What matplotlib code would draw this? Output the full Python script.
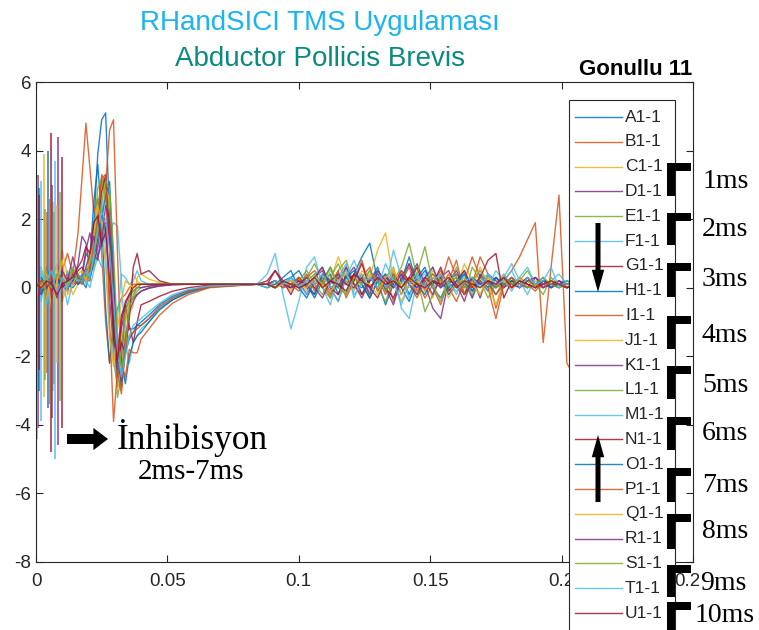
import numpy as np
import matplotlib.pyplot as plt
from matplotlib.patches import Rectangle, FancyArrowPatch
from matplotlib.lines import Line2D

W, H = 759, 630

# zaman ekseni (s)
t = ([0.000, 0.002, 0.004, 0.006, 0.008, 0.010, 0.012, 0.014, 0.016] +
     [0.0175, 0.019, 0.0205, 0.022, 0.0235, 0.025, 0.0265, 0.028, 0.0295, 0.031,
      0.0325, 0.034, 0.0355, 0.037, 0.0385, 0.040] +
     [0.043, 0.047, 0.052, 0.058, 0.066, 0.084] +
     [0.088, 0.091, 0.094, 0.097, 0.100, 0.103, 0.106, 0.109, 0.112, 0.115,
      0.118, 0.121, 0.124, 0.127, 0.130, 0.133, 0.136, 0.139, 0.142, 0.145,
      0.148, 0.151, 0.154, 0.157, 0.160, 0.163, 0.166, 0.169, 0.172, 0.175,
      0.178, 0.181, 0.184, 0.187, 0.190, 0.193, 0.196, 0.199, 0.202, 0.205])

labels = ['A1-1', 'B1-1', 'C1-1', 'D1-1', 'E1-1', 'F1-1', 'G1-1', 'H1-1', 'I1-1',
          'J1-1', 'K1-1', 'L1-1', 'M1-1', 'N1-1', 'O1-1', 'P1-1', 'Q1-1', 'R1-1',
          'S1-1', 'T1-1', 'U1-1']

A = [0.3, -0.2, 0.1, 0.2, -0.1, 0.1, 0.0, 0.2, 0.4,
     0.2, 0.0, 0.4, 1.8, 3.9, 4.9, 5.1, 2.0, -1.5, -2.3, -1.6, -1.3, -1.2, -1.2, -1.1, -1.1,
     -0.9, -0.6, -0.35, -0.15, 0.02, 0.1,
     0.1, 0.2, 0.0, 0.3, 0.5, 0.1, -0.3, 0.2, 0.6, 0.1, -0.2, 0.4, 0.9, 1.3, 0.2, -0.5, 0.1, 0.4, -0.2, 0.3,
     0.6, 0.0, -0.3, 0.2, 0.4, 0.1, -0.1, 0.3, 0.2, -0.2, 0.1, 0.3, 0.0, 0.2, 0.1, 0.3, 0.0, 0.2, 0.1, 0.1]
B = [0.2, 0.0, -0.3, 0.3, 0.2, 0.5, 1.0, 0.4, 1.6,
     3.2, 4.8, 3.5, 2.2, 2.6, 1.0, -1.0, -2.2, -1.2, -0.6, -0.3, -0.2, 0.0, 0.1, 0.1, 0.1,
     0.1, 0.1, 0.1, 0.1, 0.1, 0.1,
     0.1, 0.0, 0.2, 0.1, -0.1, 0.3, 0.5, 0.0, -0.3, 0.2, 0.6, 0.1, -0.2, 0.3, 0.0, 0.4, -0.4, 0.2, 0.6, -0.1,
     0.3, 0.0, -0.5, 0.2, 0.8, -0.2, 0.1, 0.9, 0.4, -0.6, 0.2, 0.5, 0.9, 1.4, 1.9, -1.6, 0.6, 2.7, -2.2, -2.6]
C = [0.1, 0.5, 0.3, -0.5, 0.2, 1.1, 0.3, -0.2, 0.1,
     0.2, 0.4, 0.9, 0.5, 1.4, 2.8, 3.1, 2.0, -0.8, -2.8, -3.0, -1.6, -0.8, -0.5, 0.3, 0.4,
     0.25, 0.15, 0.1, 0.1, 0.1, 0.1,
     0.0, 0.1, 0.2, -0.1, 0.3, 0.1, -0.2, 0.4, 0.2, 0.9, 0.3, -0.1, 0.5, 0.3, 1.1, 1.6, 0.2, -0.4, 0.1, 0.6,
     0.2, -0.3, 0.4, 0.1, 0.0, 0.7, 0.2, -0.2, 0.3, 0.1, 0.0, 0.2, 0.1, 0.3, 0.0, 0.2, 0.1, 0.2, 0.1, 0.1]
D = [-0.3, -0.1, 0.3, 0.1, -0.2, 0.2, 0.0, 0.2, 0.7,
     1.5, 1.3, 0.6, 1.9, 2.1, 1.2, 1.8, -0.3, -1.8, -2.5, -1.2, -0.6, -0.4, -0.3, -0.2, -0.1,
     -0.02, 0.05, 0.08, 0.1, 0.1, 0.1,
     0.1, 0.2, 0.1, 0.0, 0.2, -0.2, 0.3, 0.5, 0.0, -0.4, 0.3, 0.6, 0.1, -0.3, 0.2, 0.0, 0.4, -0.2, 0.3, 0.7,
     0.1, -0.6, -0.9, 0.2, 0.5, 0.0, 0.3, -0.3, 0.4, 0.2, 0.0, 0.3, 0.1, 0.2, 0.0, 0.1, 0.2, 0.1, 0.0, 0.1]
E = [0.4, 0.2, -0.1, 0.5, 0.3, 0.0, 0.2, 0.6, 0.3,
     0.1, 0.4, 0.2, 1.1, 2.4, 3.1, 3.1, 2.2, -1.0, -3.2, -2.6, -0.9, -0.5, -0.3, -0.1, 0.0,
     0.05, 0.08, 0.1, 0.1, 0.1, 0.1,
     0.1, 0.1, 0.2, 0.0, 0.1, 0.3, 0.7, 0.2, -0.3, 0.5, 0.8, 0.1, -0.2, 0.3, 0.0, -0.4, 0.2, 0.6, 1.3, 0.3,
     -0.7, -0.2, 0.4, 0.1, 0.3, -0.2, 0.6, 0.2, -0.3, 0.1, 0.4, 0.0, 0.2, 0.5, 0.1, -0.2, 0.3, 0.1, 0.2, 0.1]
F = [0.5, -0.4, 0.6, 0.2, 0.7, 0.3, -0.5, 0.2, 0.3,
     0.3, 0.2, 0.0, 0.5, 0.9, 0.6, 1.1, 1.6, 1.9, 1.8, 0.2, -1.6, -2.2, -1.6, -1.4, -1.2,
     -1.0, -0.6, -0.3, -0.1, 0.05, 0.1,
     0.4, 1.0, -0.2, -1.2, -0.4, 0.6, 0.9, 0.0, -0.5, 0.3, 0.7, -0.3, 0.2, 0.5, -0.1, 0.3, 0.6, -0.6, -0.9, 0.2,
     0.4, 0.0, 0.3, -0.2, 0.1, 0.5, -0.3, 0.2, 0.4, 0.0, 0.3, 0.7, 0.2, -0.2, 0.3, 0.1, 0.2, 0.0, 0.2, 0.1]
G = [-0.2, 0.1, 0.2, -0.3, 0.0, 0.1, 0.3, 0.2, 0.5,
     0.6, 0.4, 0.5, 0.9, 1.4, 2.2, 1.6, 2.3, -0.6, -1.9, -0.8, -0.5, -1.1, -1.6, -1.0, -0.5,
     -0.4, -0.25, -0.1, 0.0, 0.08, 0.1,
     0.1, 0.5, 0.2, -0.2, 0.3, 0.0, 0.1, 0.2, -0.1, 0.3, 0.1, 0.4, -0.2, 0.2, 0.5, 0.0, -0.3, 0.3, 0.2, 0.6,
     -0.1, 0.2, 0.0, 0.4, 0.1, -0.2, 0.3, 0.1, 0.2, 0.0, 0.3, 0.1, 0.2, 0.0, 0.1, 0.2, 0.1, 0.1, 0.0, 0.1]
H_ = [0.1, 0.0, -0.2, 0.1, 0.3, 0.2, 0.1, 0.0, 0.2,
      0.3, 1.0, 0.8, 2.5, 3.6, 2.0, -0.6, -2.2, -1.0, -1.8, -2.1, -2.8, -2.0, -1.6, -1.4, -1.3,
      -1.0, -0.65, -0.35, -0.12, 0.03, 0.1,
      0.0, 0.1, 0.3, 0.5, 0.0, -0.3, 0.2, 0.1, 0.4, -0.2, 0.3, 0.1, 0.0, 0.2, 0.6, -0.1, 0.3, 0.0, -0.4, 0.2,
      0.5, 0.1, 0.3, -0.2, 0.1, 0.4, 0.0, 0.2, -0.1, 0.3, 0.1, 0.0, 0.2, 0.1, 0.0, 0.2, 0.1, 0.0, 0.1, 0.1]
I = [0.0, 0.2, 0.1, -0.2, 0.4, 0.3, 0.0, 0.5, 0.2,
     0.1, 0.3, 0.2, 0.9, 1.8, 3.3, 3.0, 4.6, 4.9, 1.0, -2.2, -2.6, -1.8, -1.9, -1.9, -1.5,
     -1.2, -0.8, -0.45, -0.2, 0.0, 0.1,
     0.1, 0.0, 0.1, 0.2, 0.0, 0.4, -0.1, 0.3, 0.1, 0.5, -0.3, 0.2, 0.8, 0.0, 0.3, -0.2, 0.4, 0.1, 0.7, 0.2,
     -0.3, 0.1, 0.5, 0.0, -0.4, 0.2, 0.9, 0.3, 0.1, -0.2, 0.2, 0.0, 0.3, 0.1, -0.1, 0.2, 0.1, 0.0, 0.2, 0.1]
J = [0.2, 0.1, -0.3, 0.4, 0.6, -0.4, 0.1, 0.3, 0.1,
     0.2, 0.5, 1.1, 0.7, 1.2, 2.1, 3.0, 2.5, 0.4, -2.0, -2.9, -1.1, -0.3, 0.4, 0.2, 0.1,
     0.1, 0.1, 0.1, 0.1, 0.1, 0.1,
     0.1, 0.0, 0.2, 0.1, 0.3, -0.1, 0.2, 0.0, 0.5, 0.2, -0.2, 0.3, 0.1, 0.4, 0.0, 0.2, 0.6, -0.2, 0.1, 0.3,
     0.0, 0.5, 0.2, -0.3, 0.1, 0.3, 0.0, 0.6, 0.1, -0.5, 0.2, 0.1, 0.3, 0.0, 0.2, 0.1, 0.2, 0.0, 0.1, 0.1]
K = [0.1, -0.2, 0.2, 0.0, 0.3, 0.1, -0.1, 0.4, 0.2,
     0.4, 1.1, 1.6, 1.0, 0.8, 1.7, 1.9, 1.5, -1.1, -2.6, -2.0, -0.5, -0.2, -0.1, 0.0, 0.0,
     0.05, 0.08, 0.1, 0.1, 0.1, 0.1,
     0.1, 0.2, 0.0, 0.1, 0.3, 0.0, -0.2, 0.4, 0.2, 0.0, 0.6, 0.1, -0.3, 0.2, 0.4, 0.0, -0.5, 0.3, 0.7, 0.1,
     0.2, -0.2, 0.3, 0.5, 0.0, 0.2, -0.3, 0.4, 0.1, 0.3, 0.0, 0.2, 0.1, 0.0, 0.3, 0.1, 0.0, 0.2, 0.1, 0.1]
L = [-0.1, 0.3, 0.1, 0.2, -0.2, 0.4, 0.2, 0.1, 0.3,
     0.2, 0.3, 0.6, 1.4, 2.9, 3.2, 2.6, 1.4, -2.1, -2.9, -1.8, -0.7, -0.3, -0.1, 0.0, 0.1,
     0.1, 0.1, 0.1, 0.1, 0.1, 0.1,
     0.1, 0.0, 0.2, 0.1, 0.2, 0.5, 0.1, -0.2, 0.3, 0.7, 0.2, 0.0, 0.4, -0.3, 0.2, 0.1, 0.5, 0.0, 0.3, -0.2,
     0.1, 0.4, 0.2, 0.0, 0.6, 0.1, -0.2, 0.3, 0.2, 0.0, 0.1, 0.3, 0.0, 0.2, 0.1, 0.0, 0.2, 0.1, 0.1, 0.1]
M = [0.4, 0.6, -0.5, 0.3, 0.2, -0.3, 0.5, 0.1, 0.2,
     0.4, 0.1, 0.3, 0.9, 2.0, 2.6, 1.0, -1.3, -2.1, -0.9, 0.4, 0.3, 0.1, 0.2, 0.5, 0.2,
     0.1, 0.1, 0.1, 0.1, 0.1, 0.1,
     0.1, 0.2, 0.0, 0.3, 0.1, -0.2, 0.4, 0.6, 0.0, -0.4, 0.3, 0.8, 0.2, -0.1, 0.5, 0.0, 1.1, 0.3, -0.3, 0.4,
     0.1, 0.6, 0.0, 0.2, -0.2, 0.4, 0.1, 0.3, 0.0, 0.5, 0.2, -0.1, 0.3, 0.6, 0.1, 0.0, 0.2, 0.4, 0.1, 0.0]
N = [0.0, 0.2, 0.1, -0.1, 0.3, 0.0, 0.2, 0.3, 0.1,
     0.3, 0.5, 0.6, 1.0, 1.9, 2.8, 3.3, 1.2, -1.5, -2.2, -1.6, -1.9, -0.9, 0.6, 1.0, 0.4,
     0.5, 0.2, 0.1, 0.1, 0.1, 0.1,
     0.2, 0.5, 0.1, 0.0, 0.2, 0.1, 0.3, 0.6, 0.0, -0.2, 0.4, 0.2, 0.7, 0.0, -0.3, 0.3, 0.1, 0.5, 0.2, 0.0,
     0.3, 0.1, 0.6, -0.1, 0.2, 0.5, 0.0, 0.3, 0.8, 1.0, -0.3, 0.2, 0.1, 0.3, 0.0, 0.2, 0.1, 0.1, 0.0, 0.1]
O = [0.2, -0.1, 0.0, 0.2, 0.1, 0.3, 0.0, 0.2, 0.1,
     0.2, 0.4, 0.3, 0.7, 1.2, 2.0, 2.7, 3.1, 0.5, -1.8, -2.9, -1.9, -1.5, -1.3, -1.1, -1.0,
     -0.8, -0.5, -0.25, -0.08, 0.05, 0.1,
     0.1, 0.0, 0.2, 0.3, 0.0, 0.1, -0.2, 0.4, 0.2, 0.0, 0.3, 0.5, 0.1, -0.3, 0.2, 0.4, 0.0, 0.2, 0.9, 0.1,
     -0.2, 0.3, 0.1, 0.0, 0.2, 0.4, -0.1, 0.2, 0.0, 0.3, 0.1, 0.2, 0.0, 0.3, 0.1, 0.2, 0.0, 0.1, 0.2, 0.1]
P = [-0.4, 0.2, 0.1, 0.3, -0.1, 0.2, 0.4, 0.1, 0.2,
     0.3, 0.2, 0.6, 1.2, 2.0, 3.2, 3.3, -1.0, -3.9, -2.4, -3.1, -1.7, -1.4, -1.3, -1.2, -1.1,
     -0.9, -0.55, -0.3, -0.1, 0.03, 0.1,
     0.1, 0.2, 0.0, 0.1, 0.3, 0.1, 0.0, 0.2, -0.2, 0.4, 0.1, 0.0, 0.3, 0.6, -0.1, 0.2, 0.0, 0.5, 0.1, -0.3,
     0.2, 0.4, 0.1, 0.9, 0.3, -0.2, 0.1, 0.2, 0.0, -0.9, 0.1, 0.3, 0.0, 0.2, 0.1, 0.0, 0.2, 0.1, 0.1, 0.1]
Q = [0.3, 0.0, 0.4, -0.6, 0.2, 0.8, -0.2, 0.1, 0.4,
     0.5, 0.2, 0.8, 1.6, 2.4, 1.9, 0.6, -1.4, -2.3, -1.2, -0.4, 0.2, 0.1, 0.0, 0.1, 0.1,
     0.1, 0.1, 0.1, 0.1, 0.1, 0.1,
     0.1, 0.0, 0.1, 0.2, 0.1, 0.0, 0.3, 0.1, -0.1, 0.2, 0.4, 0.0, 0.2, 0.1, -0.2, 0.3, 0.5, 0.1, 0.0, 0.2,
     -0.1, 0.3, 0.1, 0.4, 0.0, 0.2, 0.1, -0.2, 0.3, 0.1, 0.2, 0.0, 0.1, 0.2, 0.0, 0.1, 0.2, 0.1, 0.0, 0.1]
R = [0.1, 0.3, 0.0, 0.2, -0.3, 0.5, 0.2, 0.9, 0.3,
     0.2, 0.6, 1.0, 1.5, 0.9, 1.3, 2.4, 1.9, 0.2, -2.0, -2.7, -1.5, -0.7, -0.4, -0.2, -0.1,
     0.0, 0.05, 0.1, 0.1, 0.1, 0.1,
     0.1, 0.2, 0.1, 0.0, 0.1, 0.3, 0.0, -0.3, 0.2, 0.4, 0.1, 0.0, 0.3, -0.2, 0.5, 0.2, 0.0, 0.4, 0.1, -0.2,
     0.3, 0.6, 0.0, 0.2, 0.1, -0.4, 0.3, 0.1, 0.2, 0.0, 0.3, 0.1, 0.0, 0.2, 0.3, 0.0, 0.1, 0.2, 0.0, 0.1]
S = [0.2, 0.1, 0.3, 0.0, 0.4, 0.2, 0.1, 0.5, 0.2,
     0.3, 0.4, 0.7, 1.0, 1.6, 2.5, 3.1, 2.9, 1.1, -1.5, -2.4, -1.7, -0.6, -0.2, 0.0, 0.1,
     0.1, 0.1, 0.1, 0.1, 0.1, 0.1,
     0.1, 0.0, 0.2, 0.1, 0.0, 0.2, 0.4, 0.1, 0.6, 0.0, -0.2, 0.3, 0.1, 0.5, 0.2, -0.1, 0.3, 0.0, 0.2, 0.4,
     1.2, 0.1, -0.4, 0.2, 0.3, 0.0, 0.2, 0.5, 0.1, 0.0, 0.3, 0.1, 0.2, 0.0, 0.1, 0.3, 0.1, 0.0, 0.1, 0.1]
T = [-0.3, 0.4, 0.2, 0.5, -0.2, 0.3, 0.0, 0.3, 0.2,
     0.2, 0.5, 0.3, 1.0, 1.8, 2.2, 2.0, 1.1, -0.4, -1.9, -2.6, -2.0, -1.4, -1.1, -1.0, -0.9,
     -0.7, -0.45, -0.2, -0.05, 0.05, 0.1,
     0.0, 0.2, 0.1, 0.3, 0.0, 0.2, 0.1, 0.4, 0.0, 0.2, 0.5, -0.2, 0.1, 0.3, 0.0, 0.7, 0.2, -0.5, 0.1, 0.3,
     0.0, 0.2, 0.4, 0.1, -0.1, 0.2, 0.3, 0.0, 0.4, 0.1, 0.2, 0.5, 0.0, 0.3, 0.1, 0.2, 0.6, 0.0, 0.2, 0.1]
U = [0.1, 0.0, 0.2, 0.1, -0.2, 0.1, 0.2, 0.3, 0.6,
     0.8, 1.2, 1.0, 1.9, 2.1, 1.3, 1.6, 0.3, -1.2, -2.1, -1.0, -0.4, -0.2, 0.0, 0.1, 0.1,
     0.1, 0.1, 0.1, 0.1, 0.1, 0.1,
     0.1, 0.0, 0.2, 0.1, 0.0, 0.1, 0.3, 0.0, 0.2, 0.1, -0.1, 0.4, 0.2, 0.0, 0.3, 0.1, 0.2, 0.0, 0.3, 0.1,
     0.0, 0.2, 0.1, 0.3, 0.0, 0.2, 0.1, 0.0, 0.2, 0.1, 0.3, 0.0, 0.2, 0.1, 0.0, 0.1, 0.2, 0.1, 0.0, 0.1]

traces = [A, B, C, D, E, F, G, H_, I, J, K, L, M, N, O, P, Q, R, S, T, U]

# uyari artefakti (zaman, ust, alt)
art_t = [0.0, 0.0003, 0.0030, 0.0008, 0.0092, 0.0019, 0.0057, 0.0046, 0.0040, 0.0065, 0.0084,
         0.0070, 0.0073, 0.0099, 0.0012, 0.0055, 0.0080, 0.0062, 0.0035, 0.0005, 0.0010]
art_hi = [4.2, 1.5, 3.9, 3.3, 2.8, 3.1, 4.5, 4.0, 2.2, 2.5, 4.4,
          2.2, 3.7, 3.8, 2.9, 2.6, 2.4, 3.0, 2.3, 3.2, 2.7]
art_lo = [-7.2, -2.0, -3.2, -4.1, -3.3, -3.9, -4.8, -3.5, -2.5, -3.0, -4.6,
          -2.8, -5.0, -4.1, -3.0, -3.4, -2.2, -3.8, -2.7, -4.4, -2.4]

isi_labels = ['1ms', '2ms', '3ms', '4ms', '5ms', '6ms', '7ms', '8ms', '9ms', '10ms']

colors = ['#0072BD', '#D95319', '#EDB120', '#7E2F8E', '#77AC30', '#4DBEEE', '#A2142F']

for tr in traces:
    assert len(tr) == len(t)

plt.rcParams['font.family'] = ['Liberation Sans', 'DejaVu Sans']
plt.rcParams['axes.unicode_minus'] = False
fig = plt.figure(figsize=(W / 100, H / 100), dpi=100)
ax = fig.add_axes([36 / W, 1 - 562 / H, (693 - 36) / W, (562 - 82) / H])

for i, tr in enumerate(traces):
    c = colors[i % 7]
    ax.plot(t, tr, color=c, lw=1.0, alpha=0.85)
    ax.vlines(art_t[i], art_lo[i], art_hi[i], color=c, lw=1.2, alpha=0.85)

ax.set_xlim(0, 0.25)
ax.set_ylim(-8, 6)
ax.set_xticks([0, 0.05, 0.1, 0.15, 0.2, 0.25])
ax.set_xticklabels(['0', '0.05', '0.1', '0.15', '0.2', '0.25'])
ax.set_yticks([-8, -6, -4, -2, 0, 2, 4, 6])
ax.tick_params(direction='in', top=True, right=True, length=5, width=0.8,
               labelsize=13.5, colors='#262626')
ax.tick_params(axis='x', pad=8)
for s in ax.spines.values():
    s.set_color('#262626')
    s.set_linewidth(0.8)


def fx(px):
    return px / W


def fy(py):
    return 1 - py / H


# basliklar
fig.text(fx(320), fy(30), 'RHandSICI TMS Uygulaması', ha='center', va='baseline',
         fontsize=20, color='#1AB4F0')
fig.text(fx(320), fy(66), 'Abductor Pollicis Brevis', ha='center', va='baseline',
         fontsize=20, color='#0B8A80')
fig.text(fx(692), fy(75), 'Gonullu 11', ha='right', va='baseline',
         fontsize=16, fontweight='bold', color='k')

# lejant
fig.add_artist(Rectangle((fx(569), fy(650)), (675 - 569) / W, 550 / H,
                         transform=fig.transFigure, fc='white', ec='#262626',
                         lw=0.8, zorder=5))
for i, lab in enumerate(labels):
    y = 117 + i * 24.8
    fig.add_artist(Line2D([fx(575), fx(622)], [fy(y), fy(y)], transform=fig.transFigure,
                          color=colors[i % 7], lw=1.0, alpha=0.85, zorder=6))
    fig.text(fx(625), fy(y), lab, ha='left', va='center', fontsize=12.5,
             color='#262626', zorder=6)

# ISI kosegenleri
br_top = [163, 213, 263, 316, 366, 417, 468, 514, 565, 602]
br_bot = [196, 245, 297, 349, 399, 450, 502, 549, 597, 640]
lab_y = [182, 230, 280, 335, 385, 433, 485, 532, 583, 615]
lab_x = [703, 702, 702, 702, 702, 702, 702, 702, 700, 695]
for k in range(len(isi_labels)):
    fig.add_artist(Rectangle((fx(667), fy(br_bot[k])), 8 / W, (br_bot[k] - br_top[k]) / H,
                             transform=fig.transFigure, fc='k', ec='none', zorder=7))
    fig.add_artist(Rectangle((fx(667), fy(br_top[k] + 8)), 24 / W, 8 / H,
                             transform=fig.transFigure, fc='k', ec='none', zorder=7))
    fig.text(fx(lab_x[k]), fy(lab_y[k]), isi_labels[k], ha='left', va='center',
             fontsize=20, family='Liberation Serif', color='k', zorder=8,
             bbox=dict(fc='white', ec='none', pad=0.5))

# oklar
def arrow(x0, y0, x1, y1, tw, hw, hl):
    st = 'simple,tail_width=%g,head_width=%g,head_length=%g' % (tw, hw, hl)
    fig.add_artist(FancyArrowPatch((fx(x0), fy(y0)), (fx(x1), fy(y1)),
                                   transform=fig.transFigure, arrowstyle=st,
                                   mutation_scale=10, shrinkA=0, shrinkB=0,
                                   fc='k', ec='k', lw=0, zorder=8))


arrow(598, 223, 598, 292, 0.36, 0.9, 1.6)
arrow(598, 502, 598, 435, 0.36, 0.9, 1.6)
arrow(67, 439, 108, 439, 0.72, 1.6, 1.05)

fig.text(fx(117), fy(449), 'İnhibisyon', ha='left', va='baseline', fontsize=25.5,
         family='Liberation Serif', color='k')
fig.text(fx(138), fy(479), '2ms-7ms', ha='left', va='baseline', fontsize=21,
         family='Liberation Serif', color='k')

fig.savefig('out.png', dpi=100)
